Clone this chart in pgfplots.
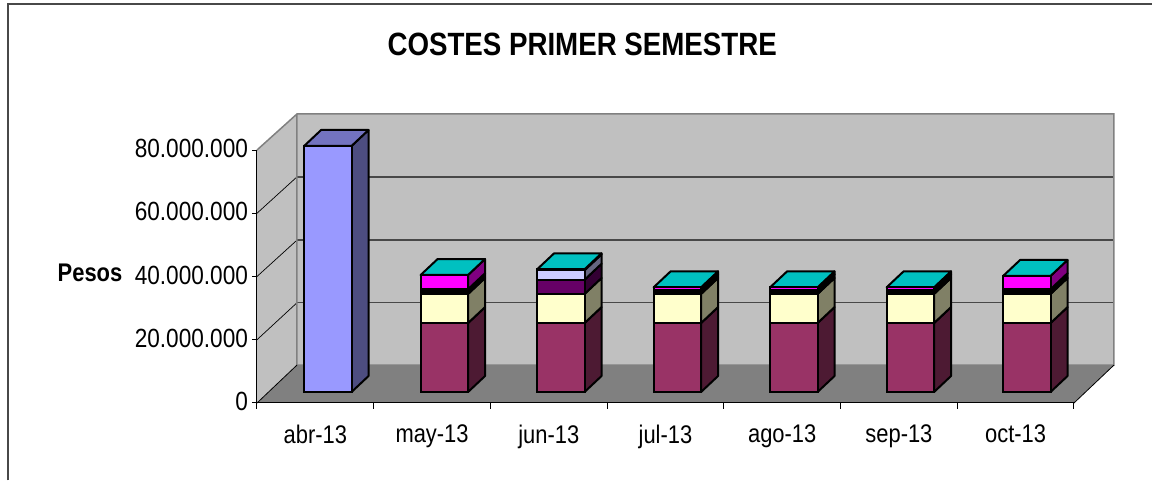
\documentclass[border=0pt]{standalone}
\usepackage{fontspec}
\usepackage{pgfplots}
\usepackage{pgfplotstable}
\pgfplotsset{compat=1.18}
\setmainfont{Liberation Sans}
\newfontfamily\narrowf{Liberation Sans}[FakeStretch=0.86]
\definecolor{wall}{HTML}{C0C0C0}
\definecolor{floorc}{HTML}{808080}
\definecolor{gridc}{HTML}{484848}
\definecolor{cAbr}{HTML}{9999FF}
\definecolor{cAbrS}{HTML}{4D4D80}
\definecolor{cAbrT}{HTML}{7373BF}
\definecolor{cCrim}{HTML}{993366}
\definecolor{cCrimS}{HTML}{4D1A33}
\definecolor{cCream}{HTML}{FFFFCC}
\definecolor{cCreamS}{HTML}{808066}
\definecolor{cPurp}{HTML}{660066}
\definecolor{cPurpS}{HTML}{330033}
\definecolor{cMag}{HTML}{FF00FF}
\definecolor{cMagS}{HTML}{800080}
\definecolor{cLil}{HTML}{CCCCFF}
\definecolor{cLilS}{HTML}{666680}
\definecolor{cTop}{HTML}{00C0C0}
% stacks, in millions of pesos
\pgfplotstableread{
x abr crim cream blk purp mag lil blkb
0 77.8 0    0   0   0   0   0   0
1 0    21.8 9.2 1.5 0   4.5 0   0
2 0    21.8 9.2 0   4.5 0   3.0 0.3
3 0    21.8 9.2 1.2 0   0.9 0   0
4 0    21.8 9.2 1.2 0   0.9 0   0
5 0    21.8 9.2 1.2 0   0.9 0   0
6 0    21.8 9.2 1.5 0   4.2 0   0
}\stacks
\newcommand{\seg}[4]{%
  \pgfmathsetmacro\xa{#1+0.2035}\pgfmathsetmacro\xb{\xa+0.1457}%
  \pgfmathsetmacro\ya{#2+5.05}\pgfmathsetmacro\yb{#3+5.05}%
  \edef\tmp{\noexpand\addplot[fill=#4,draw=black,line width=2pt,line join=round]
    coordinates {(\xa,#2) (\xb,\ya) (\xb,\yb) (\xa,#3)} -- cycle;}\tmp}
\newcommand{\tp}[3]{%
  \pgfmathsetmacro\xa{#1-0.2035}\pgfmathsetmacro\xb{#1+0.2035}%
  \pgfmathsetmacro\xc{\xb+0.1457}\pgfmathsetmacro\xd{\xa+0.1457}%
  \pgfmathsetmacro\ya{#2+5.05}%
  \edef\tmp{\noexpand\addplot[fill=#3,draw=black,line width=2pt,line join=round]
    coordinates {(\xa,#2) (\xb,#2) (\xc,\ya) (\xd,\ya)} -- cycle;}\tmp}
\begin{document}
\begin{tikzpicture}[x=1pt,y=1pt]
\useasboundingbox (0,0) rectangle (1152,481);
\draw[color=gridc,line width=1.2pt] (8,0.5) -- (8,477) -- (1152,477);
% frame: walls, floor, grid, ticks, labels
\begin{axis}[
  at={(257pt,78pt)},anchor=south west,
  scale only axis,width=817pt,height=253pt,
  xmin=0,xmax=7,ymin=0,ymax=80000000,
  clip=false,axis on top,
  axis x line*=bottom,axis y line*=left,
  axis line style={black,line width=1pt,-},
  xtick={0.5,1.5,2.5,3.5,4.5,5.5,6.5},
  xticklabels={abr-13,may-13,jun-13,jul-13,ago-13,sep-13,oct-13},
  minor xtick={0,1,2,3,4,5,6,7},
  ytick={0,20000000,40000000,60000000,80000000},
  scaled y ticks=false,
  /pgf/number format/.cd,fixed,1000 sep={.},assume math mode=true,
  /pgfplots/.cd,
  tick align=outside,tickwidth=5pt,subtickwidth=6pt,
  major x tick style={draw=none},
  minor x tick style={black,line width=1pt},
  y tick style={black,line width=1pt},
  xticklabel style={yshift=-13pt,font=\narrowf\fontsize{25.5}{25.5}\selectfont},
  yticklabel style={yshift=1.5pt,xshift=-0.5pt,font=\narrowf\fontsize{26.3}{26.3}\selectfont},
  title={\bfseries COSTES PRIMER SEMESTRE},
  title style={at={(0.398,1.395)},anchor=center,font=\narrowf\fontsize{32.2}{33}\selectfont},
  ylabel={\bfseries Pesos},
  ylabel style={rotate=-90,at={(axis description cs:-0.2044,0.514)},anchor=center,font=\narrowf\fontsize{25.5}{26}\selectfont},
]
\addplot[fill=floorc,draw=none] coordinates {(0,0) (7,0) (7.3427,12000000) (0.3427,12000000)} -- cycle;
\addplot[fill=wall,draw=none] coordinates {(0,0) (0.3427,12000000) (0.3427,91400000) (0,80000000)} -- cycle;
\addplot[fill=wall,draw=none] coordinates {(0.3427,12000000) (7.3427,12000000) (7.3427,91400000) (0.3427,91400000)} -- cycle;
\addplot[color=gridc,line width=1.5pt] coordinates {(0.3427,31700000) (7.3427,31700000)};
\addplot[color=gridc,line width=1.5pt] coordinates {(0.3427,51500000) (7.3427,51500000)};
\addplot[color=gridc,line width=1.5pt] coordinates {(0.3427,71500000) (7.3427,71500000)};
\addplot[color=black,line width=.7pt] coordinates {(0,20000000) (0.3427,31700000)};
\addplot[color=black,line width=.7pt] coordinates {(0,40000000) (0.3427,51500000)};
\addplot[color=black,line width=.7pt] coordinates {(0,60000000) (0.3427,71500000)};
\addplot[color=floorc,line width=1.5pt] coordinates {(0,80000000) (0.3427,91400000) (7.3427,91400000) (7.3427,12000000) (0.3427,12000000) (0.3427,91400000)};
\addplot[color=black,line width=.8pt] coordinates {(7,0) (7.3427,12000000)};
\addplot[color=black,line width=.8pt] coordinates {(0,0) (0.3427,12000000)};
\end{axis}
% side and top faces of the bars
\begin{axis}[
  at={(269.6pt,89pt)},anchor=south west,
  scale only axis,width=815.5pt,height=253pt,
  xmin=-0.5,xmax=6.5,ymin=0,ymax=80,clip=false,hide axis]
\seg{0}{0}{77.8}{cAbrS}\tp{0}{77.8}{cAbrT}
% may
\seg{1}{0}{21.8}{cCrimS}\seg{1}{21.8}{31}{cCreamS}\seg{1}{31}{32.5}{black}\seg{1}{32.5}{37}{cMagS}\tp{1}{37}{cTop}
% jun
\seg{2}{0}{21.8}{cCrimS}\seg{2}{21.8}{31}{cCreamS}\seg{2}{31}{35.5}{cPurpS}\seg{2}{35.5}{38.5}{cLilS}\seg{2}{38.5}{38.8}{black}\tp{2}{38.8}{cTop}
% jul
\seg{3}{0}{21.8}{cCrimS}\seg{3}{21.8}{31}{cCreamS}\seg{3}{31}{32.2}{black}\seg{3}{32.2}{33.1}{cMagS}\tp{3}{33.1}{cTop}
% ago
\seg{4}{0}{21.8}{cCrimS}\seg{4}{21.8}{31}{cCreamS}\seg{4}{31}{32.2}{black}\seg{4}{32.2}{33.1}{cMagS}\tp{4}{33.1}{cTop}
% sep
\seg{5}{0}{21.8}{cCrimS}\seg{5}{21.8}{31}{cCreamS}\seg{5}{31}{32.2}{black}\seg{5}{32.2}{33.1}{cMagS}\tp{5}{33.1}{cTop}
% oct
\seg{6}{0}{21.8}{cCrimS}\seg{6}{21.8}{31}{cCreamS}\seg{6}{31}{32.5}{black}\seg{6}{32.5}{36.7}{cMagS}\tp{6}{36.7}{cTop}
\end{axis}
% front faces of the stacked bars
\begin{axis}[
  at={(269.6pt,89pt)},anchor=south west,
  scale only axis,width=815.5pt,height=253pt,
  xmin=-0.5,xmax=6.5,ymin=0,ymax=80,clip=false,hide axis,
  ybar stacked,bar width=0.407]
\addplot[fill=cAbr,draw=black,line width=2pt] table[x=x,y=abr]{\stacks};
\addplot[fill=cCrim,draw=black,line width=2pt] table[x=x,y=crim]{\stacks};
\addplot[fill=cCream,draw=black,line width=2pt] table[x=x,y=cream]{\stacks};
\addplot[fill=black,draw=black,line width=2pt] table[x=x,y=blk]{\stacks};
\addplot[fill=cPurp,draw=black,line width=2pt] table[x=x,y=purp]{\stacks};
\addplot[fill=cMag,draw=black,line width=2pt] table[x=x,y=mag]{\stacks};
\addplot[fill=cLil,draw=black,line width=2pt] table[x=x,y=lil]{\stacks};
\addplot[fill=black,draw=black,line width=2pt] table[x=x,y=blkb]{\stacks};
\end{axis}
\end{tikzpicture}
\end{document}
